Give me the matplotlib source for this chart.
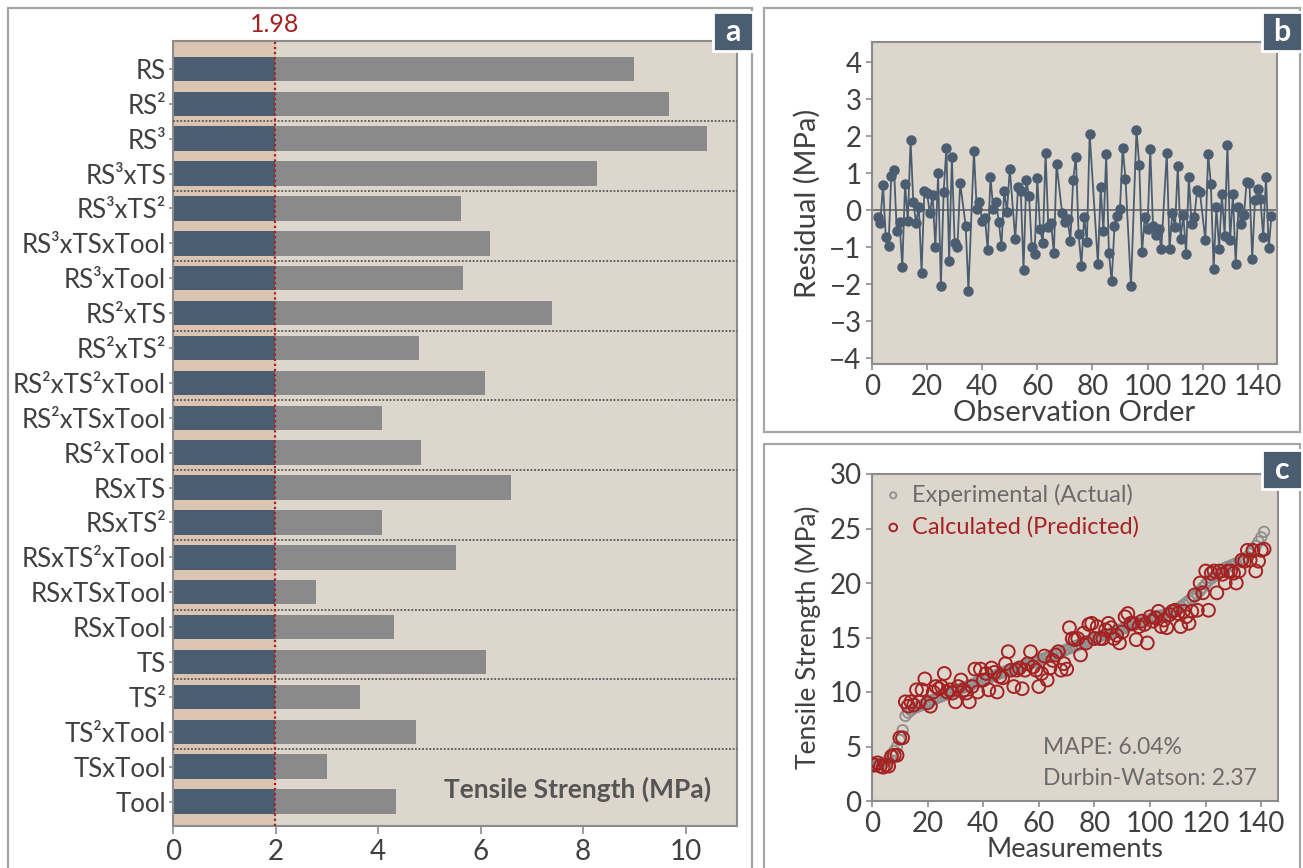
import matplotlib.pyplot as plt
from matplotlib.patches import Rectangle
import numpy as np

plt.rcParams['font.family'] = ['Lato', 'DejaVu Sans']

# panel a: model terms and their tensile strength contribution (MPa)
terms = ["RS", "RS²", "RS³", "RS³xTS", "RS³xTS²", "RS³xTSxTool", "RS³xTool",
         "RS²xTS", "RS²xTS²", "RS²xTS²xTool", "RS²xTSxTool", "RS²xTool",
         "RSxTS", "RSxTS²", "RSxTS²xTool", "RSxTSxTool", "RSxTool",
         "TS", "TS²", "TS²xTool", "TSxTool", "Tool"]
term_values = [8.99, 9.68, 10.42, 8.27, 5.61, 6.19, 5.65,
               7.39, 4.80, 6.08, 4.07, 4.83,
               6.60, 4.07, 5.52, 2.78, 4.31,
               6.10, 3.65, 4.74, 3.01, 4.35]
threshold = 1.98

# panel b: residuals vs observation order
obs_skip = [33, 36, 51, 68, 80, 81, 93, 95, 106, 120]
residuals = [-0.17, -0.34, 0.69, -0.73, -0.95, 0.93, 1.10, -0.57, -0.32, -1.53,
             0.72, -0.29, 1.89, 0.23, -0.33, 0.09, -1.68, 0.53, 0.46, -0.08,
             0.42, -1.00, 1.00, -2.04, 0.50, 1.68, -1.36, 1.44, -0.89, -0.99,
             0.74, -0.41, -2.17, 1.61, 0.05, 0.22, -0.29, -0.20, -1.08, 0.91,
             0.04, 0.23, -0.30, -0.96, 0.53, -0.04, 1.12, -0.78, 0.62, 0.53,
             -1.60, 0.82, 0.39, -1.00, -1.18, 0.87, -0.49, -0.88, 1.54, -0.45,
             -0.34, -1.15, 1.25, -0.07, -0.32, -0.22, -0.82, 0.82, 1.45, -0.65,
             -1.49, -0.17, -0.85, 2.07, -1.44, 0.62, -0.57, 1.52, -1.16, -1.92,
             -0.43, -0.15, 0.03, 1.69, 0.86, -2.05, 2.17, 1.24, -1.13, -0.19,
             -0.50, 1.65, -0.43, -0.66, -0.50, -1.05, 1.55, -1.05, -0.08, -0.44,
             1.21, -0.76, -0.13, -1.17, 0.90, -0.37, -0.17, 0.54, 0.51, -0.81,
             1.53, 0.70, -1.57, 0.09, -1.05, 0.43, -0.68, 1.77, -0.80, 0.44,
             -1.44, 0.08, -0.37, -0.13, 0.78, 0.75, -1.30, 0.29, 0.57, 0.31,
             -0.72, 0.89, -1.01, -0.14]
obs_order = [n for n in range(2, 146) if n not in obs_skip]

# panel c: measured vs predicted tensile strength (MPa)
actual = [3.1, 3.2, 3.3, 3.4, 3.5, 3.6, 3.8, 4.2, 4.6, 5.0,
          5.6, 6.5, 7.8, 8.1, 8.3, 8.5, 8.6, 8.7, 8.8, 8.9,
          9.0, 9.2, 9.3, 9.4, 9.5, 9.6, 9.7, 9.8, 9.9, 10.0,
          10.1, 10.2, 10.3, 10.4, 10.5, 10.6, 10.7, 10.8, 10.9, 11.0,
          11.1, 11.2, 11.3, 11.4, 11.5, 11.6, 11.7, 11.8, 11.9, 12.0,
          12.0, 12.1, 12.2, 12.3, 12.4, 12.5, 12.5, 12.6, 12.7, 12.8,
          12.9, 13.0, 13.1, 13.2, 13.3, 13.4, 13.5, 13.6, 13.7, 13.8,
          13.9, 14.0, 14.1, 14.2, 14.3, 14.4, 14.5, 14.6, 14.7, 14.8,
          14.9, 15.0, 15.1, 15.2, 15.3, 15.3, 15.4, 15.5, 15.6, 15.7,
          15.8, 15.9, 16.0, 16.1, 16.2, 16.2, 16.3, 16.4, 16.5, 16.6,
          16.7, 16.8, 16.9, 17.0, 17.0, 17.1, 17.2, 17.3, 17.4, 17.5,
          17.6, 17.8, 18.0, 18.2, 18.4, 18.6, 18.8, 19.0, 19.3, 19.6,
          19.9, 20.2, 20.4, 20.6, 20.8, 21.0, 21.2, 21.4, 21.5, 21.6,
          21.7, 21.8, 21.9, 22.0, 22.2, 22.4, 22.7, 23.0, 23.4, 23.8,
          24.2, 24.7]
predicted = [3.4, 3.3, 3.5, 3.2, 3.1, 3.3, 3.2, 4.1, 4.2, 4.2,
             5.8, 5.8, 9.1, 8.7, 9.1, 8.8, 10.2, 9.1, 10.2, 11.2,
             9.0, 8.7, 10.0, 10.5, 10.3, 10.5, 11.7, 10.0, 10.2, 9.9,
             9.1, 10.5, 11.1, 10.2, 9.9, 9.1, 10.5, 12.1, 10.0, 12.1,
             11.1, 11.7, 10.2, 12.2, 11.8, 10.0, 11.4, 11.3, 12.6, 13.7,
             12.0, 10.5, 12.0, 12.2, 10.3, 12.0, 12.6, 13.7, 12.3, 12.0,
             10.5, 11.7, 13.3, 11.1, 12.2, 12.9, 13.4, 13.7, 12.0, 12.6,
             12.1, 15.9, 14.9, 14.8, 14.9, 13.4, 15.4, 14.5, 16.2, 16.3,
             14.9, 16.0, 14.9, 14.9, 15.7, 16.3, 15.9, 14.9, 15.2, 14.5,
             15.5, 16.9, 17.2, 16.3, 16.3, 14.8, 16.0, 16.5, 16.2, 14.5,
             16.9, 16.5, 16.8, 17.4, 16.0, 16.6, 15.9, 17.1, 17.4, 17.5,
             17.2, 16.0, 17.4, 16.9, 16.3, 17.4, 18.9, 17.5, 20.0, 19.1,
             21.1, 17.5, 20.9, 21.1, 19.1, 21.1, 20.8, 20.0, 21.1, 21.1,
             20.9, 20.0, 21.1, 22.1, 22.0, 23.0, 22.1, 23.0, 21.1, 22.0,
             23.0, 23.1]
measurements = np.arange(len(actual))

bg = '#ddd6cc'
peach = '#dcc4b3'
slate = '#4b5d70'
bar_gray = '#8a8a8a'
red = '#a52222'
txt = '#404040'
spine_c = '#8c8c8c'

fig = plt.figure(figsize=(13.03, 8.68), dpi=100)


def px(x0, y0, x1, y1):
    W, H = 1303, 868
    return [x0 / W, 1 - y1 / H, (x1 - x0) / W, (y1 - y0) / H]


def style_axes(ax):
    ax.set_facecolor(bg)
    for s in ax.spines.values():
        s.set_color(spine_c)
        s.set_linewidth(1.5)
    ax.tick_params(colors=spine_c, labelcolor=txt, length=4, width=1.2)


# panel frames and letter tags
for (x0, y0, x1, y1), tag, (tx0, ty0) in [((8, 8, 752, 880), 'a', (713, 12)),
                                           ((764, 8, 1300, 432), 'b', (1262, 12)),
                                           ((764, 444, 1300, 880), 'c', (1262, 450))]:
    fig.patches.append(Rectangle((x0 / 1303, 1 - y1 / 868), (x1 - x0) / 1303, (y1 - y0) / 868,
                                 transform=fig.transFigure, fill=False,
                                 edgecolor='#a6a6a6', lw=1.6))
    fig.patches.append(Rectangle((tx0 / 1303, 1 - (ty0 + 39) / 868), 40 / 1303, 39 / 868,
                                 transform=fig.transFigure, facecolor=slate,
                                 edgecolor='white', lw=2, zorder=5))
    fig.text((tx0 + 20) / 1303, 1 - (ty0 + 20) / 868, tag, color='white',
             fontsize=22, fontweight='bold', ha='center', va='center', zorder=6)

# (a) term contributions
ax = fig.add_axes(px(173, 41, 737, 826))
style_axes(ax)
rows = np.arange(len(terms))
ax.axvspan(0, threshold, color=peach, zorder=0)
ax.barh(rows, threshold, height=0.7, color=slate, zorder=2)
ax.barh(rows, np.array(term_values) - threshold, left=threshold, height=0.7,
        color=bar_gray, zorder=2)
for yy in np.arange(1.5, len(terms) - 1, 2):
    ax.axhline(yy, color='#555555', ls=(0, (1, 1)), lw=1.3, zorder=3)
ax.axvline(threshold, color=red, ls=(0, (1, 1.3)), lw=1.6, zorder=4)
ax.text(threshold, -0.95, f'{threshold:.2f}', color=red, fontsize=18,
        ha='center', va='bottom')
ax.set_yticks(rows)
ax.set_yticklabels(terms, fontsize=18.5)
ax.set_ylim(len(terms) - 0.3, -0.8)
ax.set_xlim(0, 11)
ax.set_xticks(range(0, 11, 2))
ax.tick_params(axis='x', labelsize=20, length=6)
ax.tick_params(axis='y', length=3, pad=2)
ax.text(0.955, 0.03, 'Tensile Strength (MPa)', transform=ax.transAxes,
        fontsize=19, fontweight='bold', color='#555555', ha='right', va='bottom')

# (b) residuals vs observation order
ax = fig.add_axes(px(872, 42, 1277, 364))
style_axes(ax)
ax.axhline(0, color='#6e6e6e', lw=1.3, zorder=1)
ax.plot(obs_order, residuals, color=slate, lw=1.3, marker='o', ms=6.5, zorder=2)
ax.set_xlim(0, 147)
ax.set_ylim(-4.15, 4.55)
ax.set_xticks(range(0, 141, 20))
ax.set_yticks(range(-4, 5))
ax.tick_params(labelsize=20)
ax.set_xlabel('Observation Order', fontsize=21, color=txt, labelpad=0)
ax.set_ylabel('Residual (MPa)', fontsize=21, color=txt, labelpad=6)

# (c) measured vs predicted
ax = fig.add_axes(px(872, 474, 1278, 801))
style_axes(ax)
ax.scatter(measurements, actual, s=55, facecolors='none', edgecolors='#8e8e8e',
           lw=1.3, zorder=2, label='Experimental (Actual)')
ax.scatter(measurements, predicted, s=85, facecolors='none', edgecolors=red,
           lw=1.4, zorder=3, label='Calculated (Predicted)')
ax.set_xlim(0, 146)
ax.set_ylim(0, 30)
ax.set_xticks(range(0, 141, 20))
ax.set_yticks(range(0, 31, 5))
ax.tick_params(labelsize=20)
ax.set_xlabel('Measurements', fontsize=19.5, color=txt, labelpad=0)
ax.set_ylabel('Tensile Strength (MPa)', fontsize=19, color=txt, labelpad=6)
ax.legend(loc='upper left', frameon=False, fontsize=17, markerscale=0.6,
          handlelength=1.0, handletextpad=0.3, borderaxespad=0.1, borderpad=0.3,
          labelspacing=0.45, labelcolor=['#6b6b6b', red])
ax.text(0.42, 0.165, 'MAPE: 6.04%', transform=ax.transAxes, fontsize=16.5,
        color='#6b6b6b', ha='left', va='center')
ax.text(0.42, 0.07, 'Durbin-Watson: 2.37', transform=ax.transAxes, fontsize=16.5,
        color='#6b6b6b', ha='left', va='center')

fig.savefig('out.png', dpi=100)
